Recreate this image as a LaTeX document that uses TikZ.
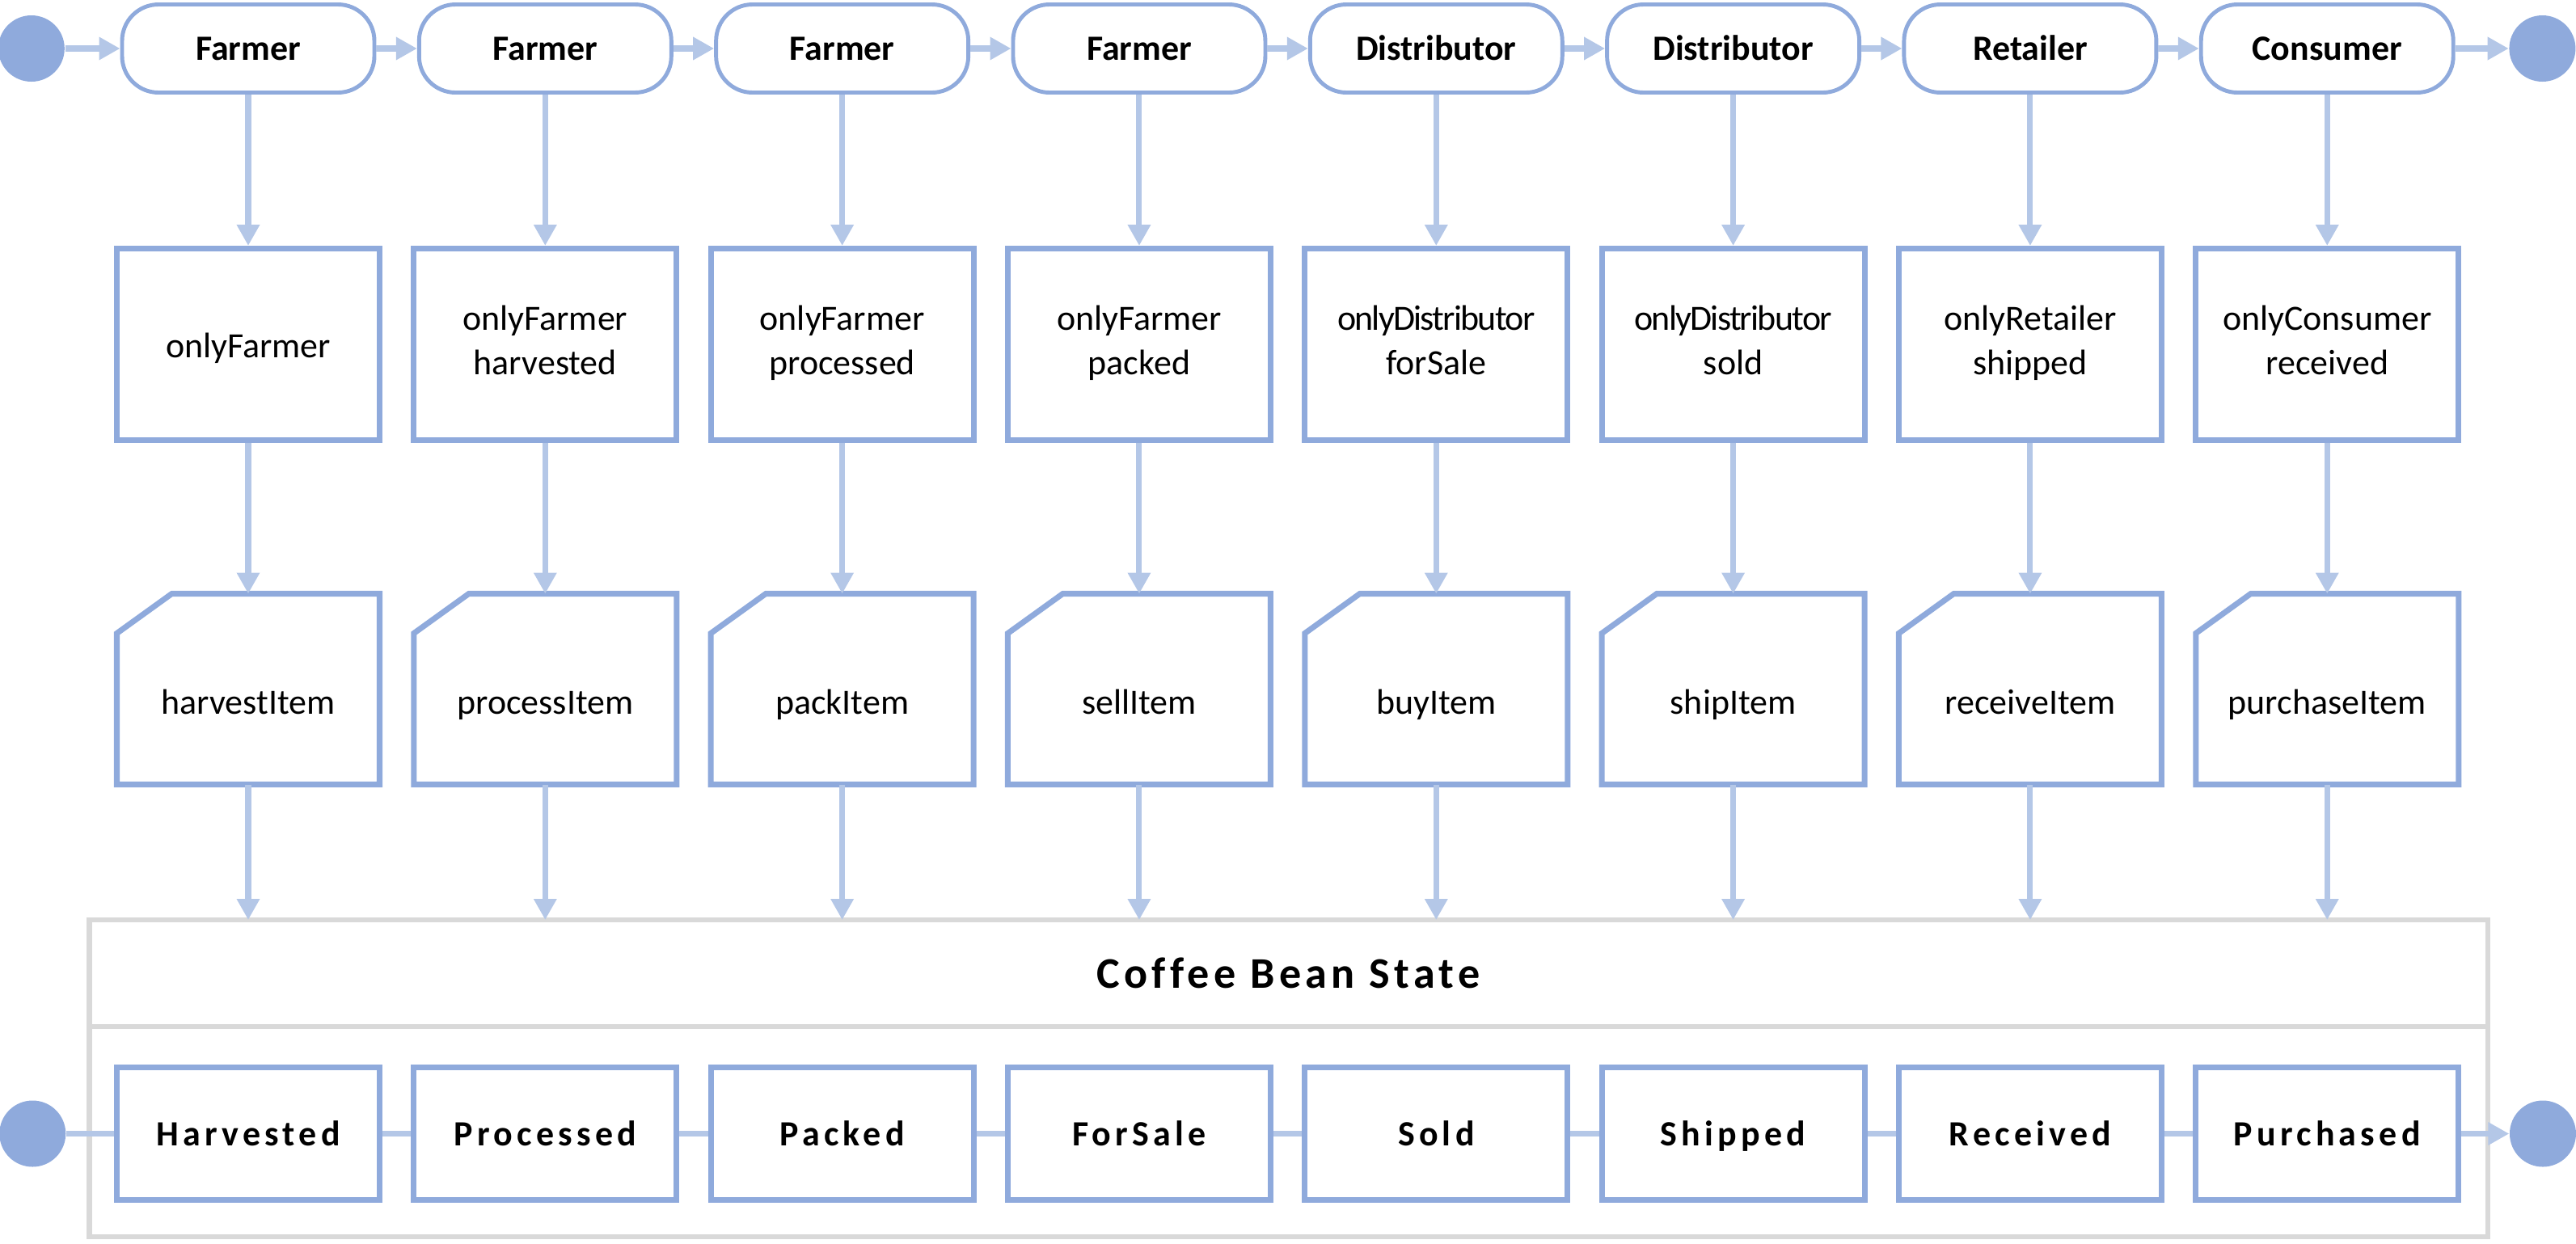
\documentclass[tikz,border=0pt]{standalone}
\usepackage{fontspec}
\setmainfont{Carlito}
\newfontfamily\statefont[LetterSpace=12]{Carlito}
\newfontfamily\titlefont[LetterSpace=10,Ligatures=NoCommon]{Carlito}
\newfontfamily\tightfont[LetterSpace=-4]{Carlito}
\usepackage{tikz}
\usetikzlibrary{positioning,arrows.meta}
\definecolor{nodeblue}{HTML}{8FAADC}
\definecolor{linkblue}{HTML}{B4C7E7}
\definecolor{panelgrey}{HTML}{D9D9D9}
\newcommand{\basesize}{\fontsize{12.5}{15.6}\selectfont}
\tikzstyle{role} = [draw=nodeblue, line width=1.4pt, rounded corners=0.45cm, minimum width=3.12cm, minimum height=1.09cm, text height=10pt, text depth=1.5pt, font=\basesize\bfseries]
\tikzstyle{guard} = [draw=nodeblue, line width=2pt, minimum width=3.25cm, minimum height=2.37cm, align=center, execute at begin node={\rule{0pt}{12.5pt}}, execute at end node={\rule[-3pt]{0pt}{3pt}}, font=\basesize]
\tikzstyle{card} = [minimum width=3.25cm, minimum height=2.36cm, outer sep=0pt, text height=17.4pt, text depth=0pt, font=\basesize]
\tikzstyle{cardline} = [draw=nodeblue, line width=2pt]
\tikzstyle{stbox} = [draw=nodeblue, line width=2pt, minimum width=3.25cm, minimum height=1.64cm, text height=10pt, text depth=1.5pt, font=\basesize\statefont\bfseries]
\tikzstyle{statepanel} = [draw=panelgrey, line width=1.85pt, minimum width=29.665cm, outer sep=0pt]
\tikzstyle{endpoint} = [circle, fill=nodeblue, minimum size=0.82cm, inner sep=0pt]
\tikzstyle{arrow} = [linkblue, line width=2pt, -{Triangle[length=2.6mm,width=2.7mm]}]
\tikzstyle{link} = [linkblue, line width=2pt]

\begin{document}
\begin{tikzpicture}
	\useasboundingbox (0,0) rectangle (31.86,-15.38);
	% roles
	\node[role] (role1) at (3.07,-0.60) {Farmer};
	\node[role, right=0.504cm of role1] (role2) {Farmer};
	\node[role, right=0.504cm of role2] (role3) {Farmer};
	\node[role, right=0.504cm of role3] (role4) {Farmer};
	\node[role, right=0.504cm of role4] (role5) {Distributor};
	\node[role, right=0.504cm of role5] (role6) {Distributor};
	\node[role, right=0.504cm of role6] (role7) {Retailer};
	\node[role, right=0.504cm of role7] (role8) {Consumer};
	\node[endpoint, left=0.68cm of role1] (topstart) {};
	\node[endpoint, right=0.66cm of role8] (topend) {};
	% modifiers
	\node[guard, below=1.87cm of role1] (guard1) {onlyFarmer};
	\node[guard, below=1.87cm of role2] (guard2) {onlyFarmer\\harvested};
	\node[guard, below=1.87cm of role3] (guard3) {onlyFarmer\\processed};
	\node[guard, below=1.87cm of role4] (guard4) {onlyFarmer\\packed};
	\node[guard, below=1.87cm of role5] (guard5) {{\tightfont onlyDistributor}\\forSale};
	\node[guard, below=1.87cm of role6] (guard6) {{\tightfont onlyDistributor}\\sold};
	\node[guard, below=1.87cm of role7] (guard7) {onlyRetailer\\shipped};
	\node[guard, below=1.87cm of role8] (guard8) {onlyConsumer\\received};
	% functions
	\node[card, below=1.865cm of guard1] (harvestitem) {harvestItem};
	\node[card, below=1.865cm of guard2] (processitem) {processItem};
	\node[card, below=1.865cm of guard3] (packitem) {packItem};
	\node[card, below=1.865cm of guard4] (sellitem) {sellItem};
	\node[card, below=1.865cm of guard5] (buyitem) {buyItem};
	\node[card, below=1.865cm of guard6] (shipitem) {shipItem};
	\node[card, below=1.865cm of guard7] (receiveitem) {receiveItem};
	\node[card, below=1.865cm of guard8] (purchaseitem) {purchaseItem};
	\foreach \n in {harvestitem,processitem,packitem,sellitem,buyitem,shipitem,receiveitem,purchaseitem}
		\draw[cardline] ([yshift=-0.49cm]\n.north west) -- ([xshift=0.68cm]\n.north west) -- (\n.north east) -- (\n.south east) -- (\n.south west) -- cycle;
	% state panel
	\node[statepanel, minimum height=1.32cm, font=\titlefont\bfseries\fontsize{15.4}{18}\selectfont] (statetitle) at (15.935,-12.04) {Coffee Bean State};
	\node[statepanel, minimum height=2.60cm, below=0pt of statetitle] (statebody) {};
	\node[stbox, below=3.465cm of harvestitem] (harvested) {Harvested};
	\node[stbox, below=3.465cm of processitem] (processed) {Processed};
	\node[stbox, below=3.465cm of packitem] (packed) {Packed};
	\node[stbox, below=3.465cm of sellitem] (forsale) {ForSale};
	\node[stbox, below=3.465cm of buyitem] (sold) {Sold};
	\node[stbox, below=3.465cm of shipitem] (shipped) {Shipped};
	\node[stbox, below=3.465cm of receiveitem] (received) {Received};
	\node[stbox, below=3.465cm of purchaseitem] (purchased) {Purchased};
	\node[endpoint, left=0.59cm of harvested] (statestart) {};
	\node[endpoint, right=0.59cm of purchased] (stateend) {};
	% transitions
	\path (topstart) edge[arrow] (role1) (role1) edge[arrow] (role2) (role2) edge[arrow] (role3)
		(role3) edge[arrow] (role4) (role4) edge[arrow] (role5) (role5) edge[arrow] (role6)
		(role6) edge[arrow] (role7) (role7) edge[arrow] (role8) (role8) edge[arrow] (topend);
	\path (role1) edge[arrow] (guard1) (guard1) edge[arrow] (harvestitem) (harvestitem) edge[arrow] (harvestitem |- statetitle.north);
	\path (role2) edge[arrow] (guard2) (guard2) edge[arrow] (processitem) (processitem) edge[arrow] (processitem |- statetitle.north);
	\path (role3) edge[arrow] (guard3) (guard3) edge[arrow] (packitem) (packitem) edge[arrow] (packitem |- statetitle.north);
	\path (role4) edge[arrow] (guard4) (guard4) edge[arrow] (sellitem) (sellitem) edge[arrow] (sellitem |- statetitle.north);
	\path (role5) edge[arrow] (guard5) (guard5) edge[arrow] (buyitem) (buyitem) edge[arrow] (buyitem |- statetitle.north);
	\path (role6) edge[arrow] (guard6) (guard6) edge[arrow] (shipitem) (shipitem) edge[arrow] (shipitem |- statetitle.north);
	\path (role7) edge[arrow] (guard7) (guard7) edge[arrow] (receiveitem) (receiveitem) edge[arrow] (receiveitem |- statetitle.north);
	\path (role8) edge[arrow] (guard8) (guard8) edge[arrow] (purchaseitem) (purchaseitem) edge[arrow] (purchaseitem |- statetitle.north);
	\path (statestart) edge[link] (harvested) (harvested) edge[link] (processed) (processed) edge[link] (packed)
		(packed) edge[link] (forsale) (forsale) edge[link] (sold) (sold) edge[link] (shipped)
		(shipped) edge[link] (received) (received) edge[link] (purchased) (purchased) edge[arrow] (stateend);
\end{tikzpicture}
\end{document}
